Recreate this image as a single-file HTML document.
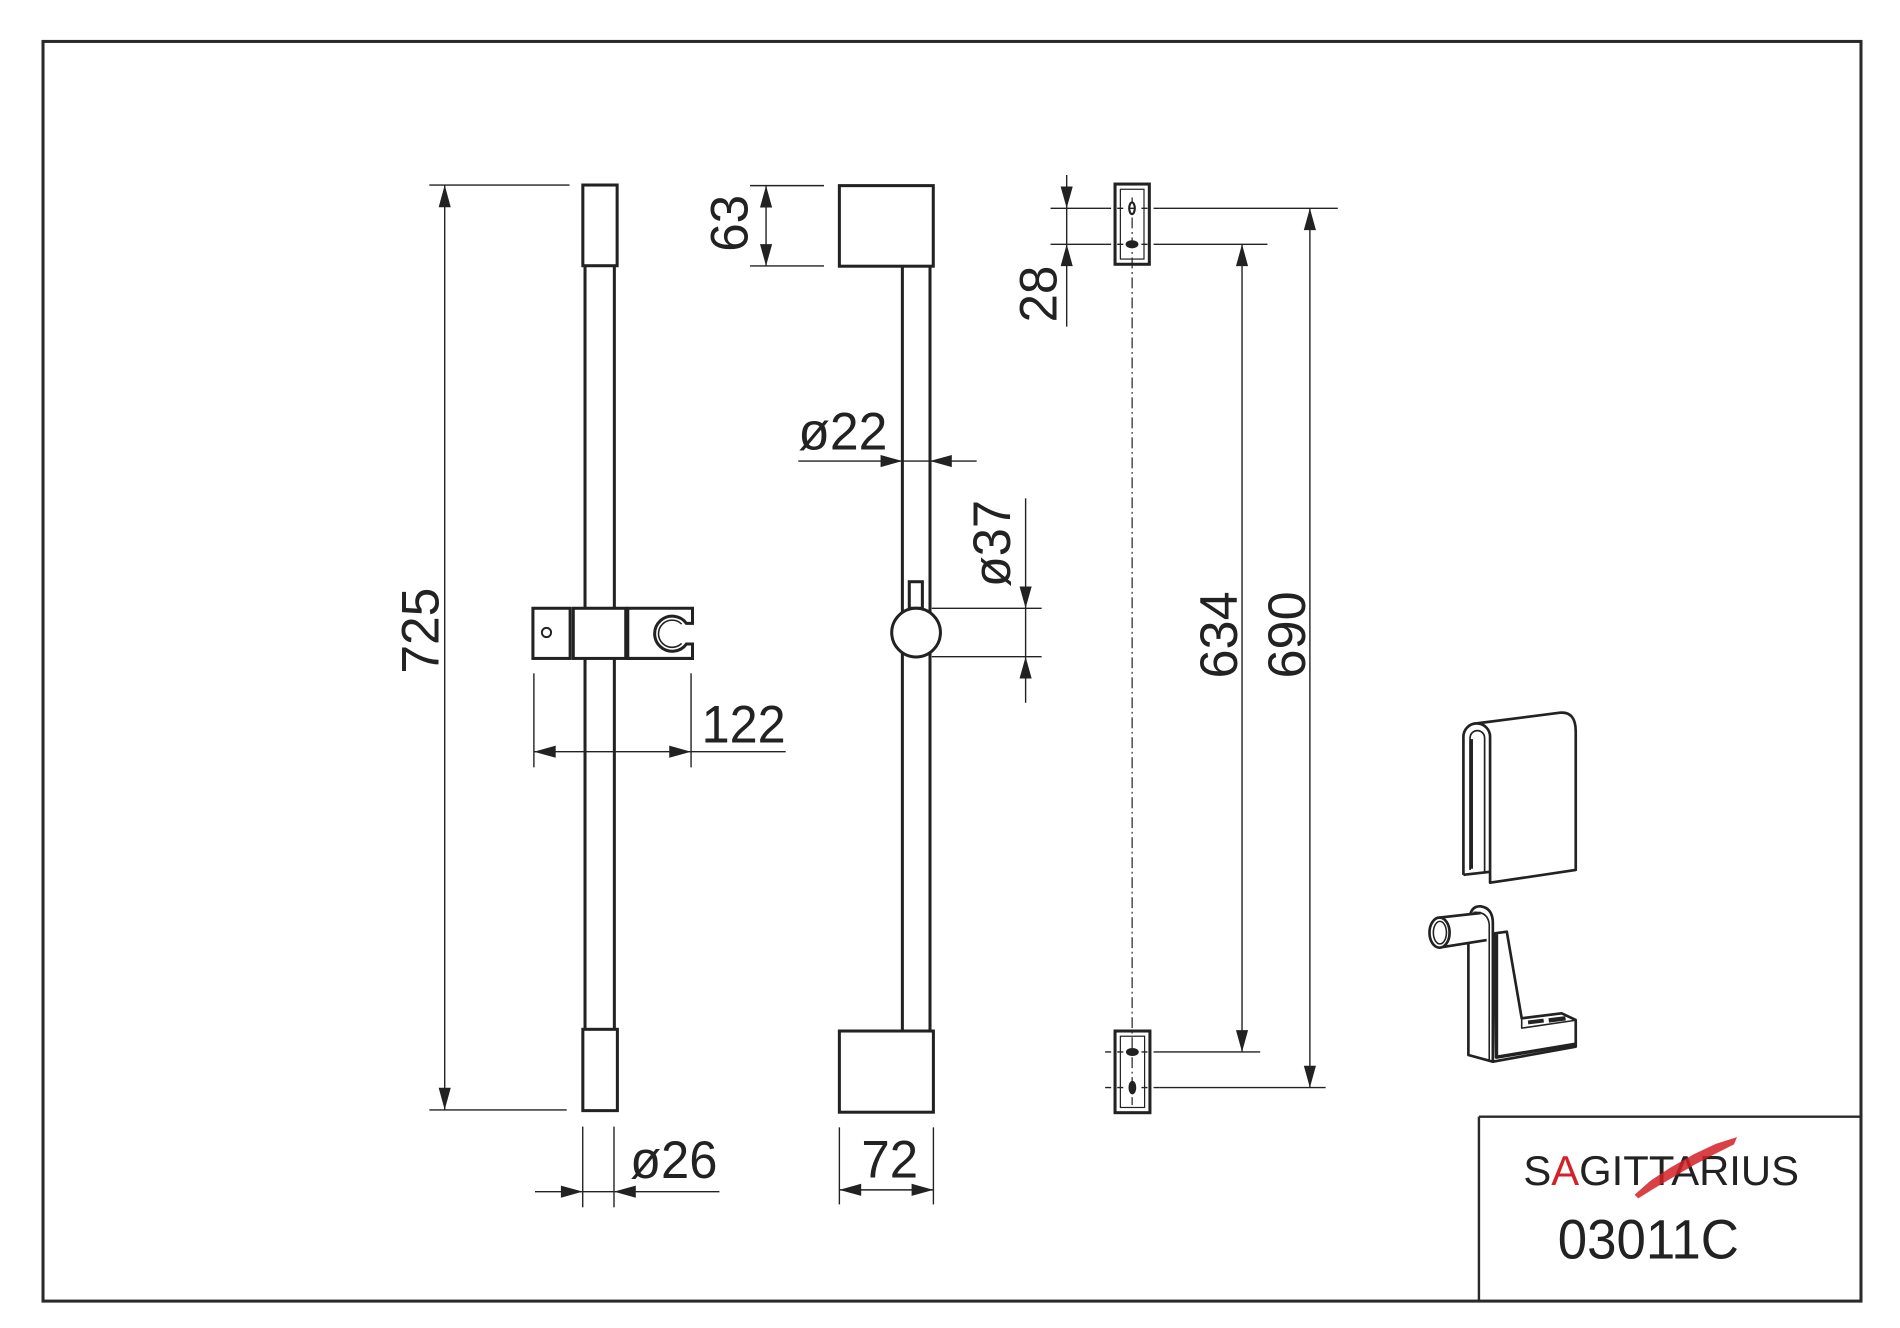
<!DOCTYPE html>
<html>
<head>
<meta charset="utf-8">
<style>
  html,body{margin:0;padding:0;background:#fff;}
  svg{display:block;}
  text{font-family:"Liberation Sans",Arial,sans-serif;fill:#222;}
</style>
</head>
<body>
<svg width="1900" height="1328" viewBox="0 0 1568 1096" preserveAspectRatio="none" xmlns="http://www.w3.org/2000/svg">
  <rect x="0" y="0" width="1568" height="1096" fill="#fff"/>

  <!-- Border -->
  <rect x="35.5" y="34.2" width="1500.3" height="1039.6" fill="none" stroke="#2a2a2a" stroke-width="2.5"/>
  <!-- Title block -->
  <line x1="1220.5" y1="921.6" x2="1535.8" y2="921.6" stroke="#2a2a2a" stroke-width="2"/>
  <line x1="1220.5" y1="921.6" x2="1220.5" y2="1073.8" stroke="#2a2a2a" stroke-width="2"/>

  <g stroke="#222" fill="none">
    <!-- ================= VIEW 1 ================= -->
    <g stroke-width="2.5">
      <line x1="482.8" y1="219.3" x2="482.8" y2="849.5"/>
      <line x1="507" y1="219.3" x2="507" y2="849.5"/>
      <rect x="481" y="152.7" width="28.3" height="66.6" fill="#fff"/>
      <rect x="481" y="849.5" width="28.5" height="67.1" fill="#fff"/>
      <!-- clamp -->
      <rect x="439.8" y="502" width="30.7" height="41.4" fill="#fff"/>
      <rect x="473.1" y="502" width="43.3" height="41.4" fill="#fff"/>
      <path d="M518.1,502 L571.5,502 L571.5,514.5 L566.5,514.5 A14.5,14.5 0 1 0 566.5,531.5 L571.5,531.5 L571.5,543.4 L518.1,543.4 Z" fill="#fff"/>
    </g>
    <circle cx="451" cy="522" r="3.8" stroke-width="1.6"/>
    <path d="M562.5,515 A11.2,11.2 0 1 0 562.5,531" stroke-width="1.3"/>

    <!-- 725 -->
    <g stroke-width="1.15">
      <line x1="354.3" y1="152.7" x2="470" y2="152.7"/>
      <line x1="354.3" y1="916" x2="467.7" y2="916"/>
      <line x1="367" y1="152.7" x2="367" y2="916"/>
      <!-- 122 -->
      <line x1="440.6" y1="555.7" x2="440.6" y2="633.3"/>
      <line x1="570.3" y1="555.7" x2="570.3" y2="633.3"/>
      <line x1="440.6" y1="620.4" x2="648.4" y2="620.4"/>
      <!-- ø26 -->
      <line x1="480.9" y1="929.8" x2="480.9" y2="996.4"/>
      <line x1="506.7" y1="929.8" x2="506.7" y2="996.4"/>
      <line x1="441.5" y1="983.5" x2="593.7" y2="983.5"/>
    </g>

    <!-- ================= VIEW 2 ================= -->
    <g stroke-width="2.5">
      <line x1="744.7" y1="219.7" x2="744.7" y2="850.9"/>
      <line x1="767.5" y1="219.7" x2="767.5" y2="850.9"/>
      <rect x="692.7" y="153.2" width="77.5" height="66.5" fill="#fff"/>
      <rect x="692.7" y="850.9" width="77.6" height="67" fill="#fff"/>
      <rect x="750.4" y="480.1" width="10.8" height="21.9" fill="#fff"/>
      <circle cx="756" cy="522.1" r="20.1" fill="#fff"/>
    </g>
    <g stroke-width="1.15">
      <!-- 63 -->
      <line x1="619" y1="153.2" x2="680" y2="153.2"/>
      <line x1="619" y1="219.5" x2="680" y2="219.5"/>
      <line x1="632.2" y1="153.2" x2="632.2" y2="219.5"/>
      <!-- ø22 -->
      <line x1="658.8" y1="380.5" x2="806" y2="380.5"/>
      <!-- ø37 -->
      <line x1="769" y1="502" x2="859.6" y2="502"/>
      <line x1="769" y1="542" x2="859.6" y2="542"/>
      <line x1="846.4" y1="411.3" x2="846.4" y2="580"/>
      <!-- 72 -->
      <line x1="692.7" y1="930.4" x2="692.7" y2="994"/>
      <line x1="770.3" y1="930.4" x2="770.3" y2="994"/>
      <line x1="692.7" y1="982" x2="770.3" y2="982"/>
    </g>

    <!-- ================= VIEW 3 ================= -->
    <line x1="934.3" y1="163" x2="934.3" y2="912" stroke-width="1" stroke-dasharray="9 3 1.5 3"/>
    <g stroke-width="2.5">
      <rect x="920.2" y="151.9" width="28.3" height="66.2"/>
      <rect x="920.2" y="850.9" width="28.8" height="67.4"/>
    </g>
    <g stroke-width="1">
      <rect x="924.6" y="156.2" width="19.5" height="57.6"/>
      <rect x="924.6" y="855.2" width="20" height="58.8"/>
    </g>
    <ellipse cx="934.2" cy="171.9" rx="2.3" ry="4.8" stroke-width="1.8" fill="#fff"/>
    <ellipse cx="934.2" cy="201.6" rx="4.5" ry="2.5" stroke-width="1.6" fill="#222"/>
    <ellipse cx="934.5" cy="868.2" rx="4.5" ry="2.5" stroke-width="1.6" fill="#222"/>
    <ellipse cx="934.5" cy="897.6" rx="2.4" ry="4.8" stroke-width="1.6" fill="#222"/>

    <g stroke-width="1.15">
      <!-- 28 -->
      <line x1="867" y1="171.9" x2="912" y2="171.9"/>
      <line x1="867" y1="201.6" x2="912" y2="201.6"/>
      <line x1="880.3" y1="144.4" x2="880.3" y2="269.6"/>
      <!-- dashed through bracket -->
      <line x1="912" y1="171.9" x2="957" y2="171.9" stroke-dasharray="5 5"/>
      <line x1="912" y1="201.6" x2="957" y2="201.6" stroke-dasharray="5 5"/>
      <line x1="912" y1="868.2" x2="957" y2="868.2" stroke-dasharray="5 5"/>
      <line x1="912" y1="897.6" x2="957" y2="897.6" stroke-dasharray="5 5"/>
      <!-- 690 -->
      <line x1="957" y1="171.9" x2="1104" y2="171.9"/>
      <line x1="957" y1="897.6" x2="1094" y2="897.6"/>
      <line x1="1081" y1="171.9" x2="1081" y2="897.6"/>
      <!-- 634 -->
      <line x1="957" y1="201.6" x2="1046" y2="201.6"/>
      <line x1="957" y1="868.2" x2="1040" y2="868.2"/>
      <line x1="1025" y1="201.6" x2="1025" y2="868.2"/>
    </g>

    <!-- ================= ISO: clip ================= -->
    <g stroke-width="2.2" stroke-linejoin="round">
      <path d="M1218.7,597 L1287.4,588.2 Q1300.4,587 1300.4,603.8 L1300.4,718 L1229.7,728.5 Z" fill="#fff"/>
      <path d="M1207.7,722 L1207.7,608 A11,11 0 0 1 1229.7,608 L1229.7,728.5" fill="#fff"/>
      <line x1="1207.7" y1="722" x2="1229.7" y2="719.5"/>
    </g>
    <path d="M1213.2,718 L1213.2,609 A6,6 0 0 1 1225.2,609 L1225.2,721" stroke-width="1.4"/>
    <rect x="1212.6" y="610" width="3" height="107" fill="#222" stroke="none"/>

    <!-- ================= ISO: hook ================= -->
    <g stroke-width="2.2" stroke-linejoin="round">
      <path d="M1213,757 Q1214,747.5 1222,748 Q1232,749.5 1232,762 L1232,876.2 L1211.8,870.7 L1211.8,779" fill="#fff"/>
      <path d="M1216,753 Q1228,752 1229,763 L1229,875" stroke-width="1.3"/>
      <path d="M1188,757.3 L1222,753.5 L1226.9,775.8 L1188,782 Z" fill="#fff" stroke="none"/>
      <line x1="1188" y1="757.3" x2="1222" y2="753.5"/>
      <line x1="1188" y1="782" x2="1226.9" y2="775.8"/>
      <ellipse cx="1188" cy="769.7" rx="8.3" ry="12.4" fill="#fff"/>
      <ellipse cx="1188.3" cy="769.7" rx="5.4" ry="9.3" stroke-width="1.3"/>
      <path d="M1233.8,770.3 L1243.5,768.9 L1255.8,840.4 L1288.8,836.3 L1300.4,841.8 L1300.4,863.8 L1232,876.2 Z" fill="#fff"/>
      <path d="M1235,771 L1235,872.5 L1300,861.8" stroke-width="2.8"/>
      <path d="M1255.8,840.4 L1255.8,848.5 L1300.4,842" stroke-width="1.3"/>
    </g>
    <rect x="1261" y="841.5" width="13" height="3.2" fill="#222" stroke="none" transform="rotate(-7 1267 843)"/>
    <rect x="1278" y="839.5" width="14" height="3.6" fill="#222" stroke="none" transform="rotate(-7 1285 841)"/>
  </g>

  <!-- ================= ARROWS ================= -->
  <g fill="#222" stroke="none">
    <!-- 725 -->
    <polygon points="367,152.7 362,171 372,171"/>
    <polygon points="367,916 362,897.7 372,897.7"/>
    <!-- 122 -->
    <polygon points="440.6,620.4 458.6,615.4 458.6,625.4"/>
    <polygon points="570.3,620.4 552.3,615.4 552.3,625.4"/>
    <!-- ø26 -->
    <polygon points="480.9,983.5 462.9,978.5 462.9,988.5"/>
    <polygon points="506.7,983.5 524.7,978.5 524.7,988.5"/>
    <!-- 63 -->
    <polygon points="632.2,153.2 627.2,171.2 637.2,171.2"/>
    <polygon points="632.2,219.5 627.2,201.5 637.2,201.5"/>
    <!-- ø22 -->
    <polygon points="744.7,380.5 726.7,375.5 726.7,385.5"/>
    <polygon points="767.5,380.5 785.5,375.5 785.5,385.5"/>
    <!-- ø37 -->
    <polygon points="846.4,502 841.4,484 851.4,484"/>
    <polygon points="846.4,542 841.4,560 851.4,560"/>
    <!-- 72 -->
    <polygon points="692.7,982 710.7,977 710.7,987"/>
    <polygon points="770.3,982 752.3,977 752.3,987"/>
    <!-- 28 -->
    <polygon points="880.3,171.9 875.3,153.9 885.3,153.9"/>
    <polygon points="880.3,201.6 875.3,219.6 885.3,219.6"/>
    <!-- 634 -->
    <polygon points="1025,201.6 1020,219.6 1030,219.6"/>
    <polygon points="1025,868.2 1020,850.2 1030,850.2"/>
    <!-- 690 -->
    <polygon points="1081,171.9 1076,189.9 1086,189.9"/>
    <polygon points="1081,897.6 1076,879.6 1086,879.6"/>
  </g>

  <!-- ================= LABELS ================= -->
  <g font-size="44">
    <text transform="translate(362,520.5) rotate(-90)" text-anchor="middle" textLength="71" lengthAdjust="spacingAndGlyphs">725</text>
    <text transform="translate(617,184.3) rotate(-90)" text-anchor="middle" textLength="47" lengthAdjust="spacingAndGlyphs">63</text>
    <text transform="translate(833.5,448.6) rotate(-90)" text-anchor="middle" textLength="72" lengthAdjust="spacingAndGlyphs">ø37</text>
    <text transform="translate(872,242.7) rotate(-90)" text-anchor="middle" textLength="47" lengthAdjust="spacingAndGlyphs">28</text>
    <text transform="translate(1021,524) rotate(-90)" text-anchor="middle" textLength="72" lengthAdjust="spacingAndGlyphs">634</text>
    <text transform="translate(1077,524) rotate(-90)" text-anchor="middle" textLength="72" lengthAdjust="spacingAndGlyphs">690</text>

    <text x="579" y="613" textLength="69.4" lengthAdjust="spacingAndGlyphs">122</text>
    <text x="658.8" y="371" textLength="73.6" lengthAdjust="spacingAndGlyphs">ø22</text>
    <text x="520" y="972.4" textLength="72.1" lengthAdjust="spacingAndGlyphs">ø26</text>
    <text x="710.9" y="971.6" textLength="46.8" lengthAdjust="spacingAndGlyphs">72</text>
  </g>

  <!-- Title block text -->
  <text x="1257.2" y="977.9" font-size="34.5"><tspan>S</tspan><tspan style="fill:#d42027">A</tspan><tspan>GITTARIUS</tspan></text>
  <polygon points="1349,986 1362,974.5 1378,964 1398,952.5 1416,944 1433.5,938.5 1431,944.5 1414,953 1398,961.5 1380,972 1364,981.5 1352,989" fill="#d42027" opacity="0.85"/>
  <text x="1285.6" y="1038.5" font-size="46" textLength="149.4" lengthAdjust="spacingAndGlyphs">03011C</text>
</svg>
</body>
</html>
